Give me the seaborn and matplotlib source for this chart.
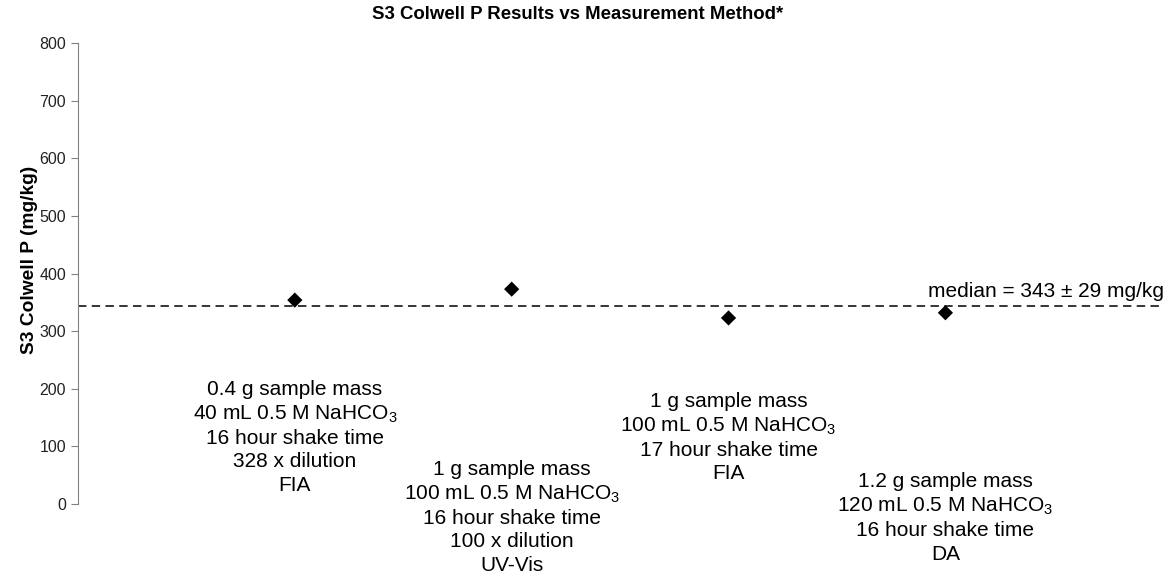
import matplotlib
matplotlib.use("Agg")
from matplotlib import pyplot as plt
import seaborn as sns
import pandas as pd

# data
methods = ["A", "B", "C", "D"]
positions = [0, 1, 2, 3]
colwell_p = [354, 373, 323, 332]
median_value = 343
median_text = "median = 343 \u00b1 29 mg/kg"
method_labels = [
    "0.4 g sample mass\n40 mL 0.5 M NaHCO$\\mathregular{_3}$\n16 hour shake time\n328 x dilution\nFIA",
    "1 g sample mass\n100 mL 0.5 M NaHCO$\\mathregular{_3}$\n16 hour shake time\n100 x dilution\nUV-Vis",
    "1 g sample mass\n100 mL 0.5 M NaHCO$\\mathregular{_3}$\n17 hour shake time\nFIA",
    "1.2 g sample mass\n120 mL 0.5 M NaHCO$\\mathregular{_3}$\n16 hour shake time\nDA",
]
label_tops = [215, 76, 194, 55]
y_ticks = [0, 100, 200, 300, 400, 500, 600, 700, 800]

sns.set_style("white")
plt.rcParams["font.family"] = ["Liberation Sans", "DejaVu Sans"]
plt.rcParams["mathtext.fontset"] = "custom"
plt.rcParams["mathtext.rm"] = "Liberation Sans"
plt.rcParams["text.color"] = "black"

df = pd.DataFrame({"method": methods, "pos": positions, "value": colwell_p})

fig = plt.figure(figsize=(11.74, 5.76), dpi=100)
ax = fig.add_axes([0.0664, 0.125, 0.9236, 0.8])

ax.axhline(median_value, color="black", lw=1.1, linestyle=(0, (5.5, 3.5)), zorder=1)
sns.scatterplot(data=df, x="pos", y="value", marker="D", s=60, color="black",
                edgecolor="none", ax=ax, zorder=3, legend=False)

for x, top, txt in zip(positions, label_tops, method_labels):
    ax.text(x, top, txt, ha="center", va="top", fontsize=15, linespacing=1.28,
            clip_on=False)

ax.text(4.01, median_value + 10, median_text, ha="right", va="bottom", fontsize=15)

ax.set_xlim(-1, 4)
ax.set_ylim(0, 800)
ax.set_yticks(y_ticks)
ax.tick_params(axis="y", direction="out", length=5, color="#808080",
               labelsize=11.5, labelcolor="#222222", left=True)
ax.set_xticks([])
ax.set_xlabel("")
ax.set_ylabel("S3 Colwell P (mg/kg)", fontsize=13.8, fontweight="bold",
              color="black")
ax.yaxis.set_label_coords(-0.037, 0.529)
for side in ["top", "right", "bottom"]:
    ax.spines[side].set_visible(False)
ax.spines["left"].set_color("#808080")
fig.suptitle("S3 Colwell P Results vs Measurement Method*", x=0.492, y=0.99,
             fontsize=13.4, fontweight="bold")

fig.savefig("out.png", dpi=100)
